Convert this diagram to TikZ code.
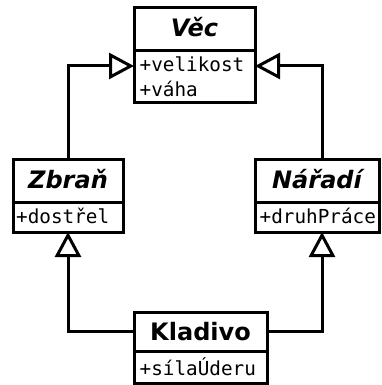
\documentclass[tikz,border=0pt]{standalone}
\usepackage{fontspec}
\setmainfont{DejaVu Sans}
\setmonofont{DejaVu Sans Mono}
\usetikzlibrary{arrows.meta}

\tikzset{
  box/.style={draw, line width=3pt, rectangle, inner sep=0pt, outer sep=0pt, anchor=north west, fill=white},
  ttl/.style={inner sep=0pt, font=\fontsize{24}{28}\selectfont\bfseries\itshape},
  ttlup/.style={inner sep=0pt, font=\fontsize{24}{28}\selectfont\bfseries},
  attr/.style={inner sep=0pt, anchor=base west, font=\fontsize{19.3}{25}\selectfont\ttfamily},
  gen/.style={line width=3pt, -{Triangle[open, length=25pt, width=26pt]}, line join=miter}
}

\begin{document}
\begin{tikzpicture}[x=1pt, y=-1pt]
\useasboundingbox (0,0) rectangle (381,385);

% Věc
\node[box, minimum width=121pt, minimum height=43pt] (vecT) at (134,8) {};
\node[box, minimum width=121pt, minimum height=52pt] (vecA) at (vecT.south west) {};
\node[ttl, anchor=base] (vecN) at (194.5,37) {Věc};
\node[attr] (vec1) at (139.5,71.5) {+velikost};
\node[attr] (vec2) at (139.5,96.5) {+váha};

% Zbraň
\node[box, minimum width=110pt, minimum height=43pt] (zbrT) at (13,159) {};
\node[box, minimum width=110pt, minimum height=30pt] (zbrA) at (zbrT.south west) {};
\node[ttl, anchor=base] (zbrN) at (68,188) {Zbraň};
\node[attr] (zbr1) at (16,223.5) {+dostřel};

% Nářadí
\node[box, minimum width=124pt, minimum height=43pt] (narT) at (255,159) {};
\node[box, minimum width=124pt, minimum height=30pt] (narA) at (narT.south west) {};
\node[ttl, anchor=base] (narN) at (317,188) {Nářadí};
\node[attr] (nar1) at (259.5,223.5) {+druhPráce};

% Kladivo
\node[box, minimum width=133pt, minimum height=39pt] (kladT) at (134,312) {};
\node[box, minimum width=133pt, minimum height=32pt] (kladA) at (kladT.south west) {};
\node[ttlup, anchor=base] (kladN) at (200.5,340.5) {Kladivo};
\node[attr] (klad1) at (139.5,375) {+sílaÚderu};

% attachment points on Věc
\coordinate (vecL) at ([yshift=-15pt]vecT.south west);
\coordinate (vecR) at ([yshift=-15pt]vecT.south east);

% generalisations
\draw[gen] (zbrT.north) |- (vecL);
\draw[gen] ([xshift=5pt]narT.north) |- (vecR);
\draw[gen] (kladT.west) -| (zbrA.south);
\draw[gen] (kladT.east) -| ([xshift=5pt]narA.south);
\end{tikzpicture}
\end{document}
